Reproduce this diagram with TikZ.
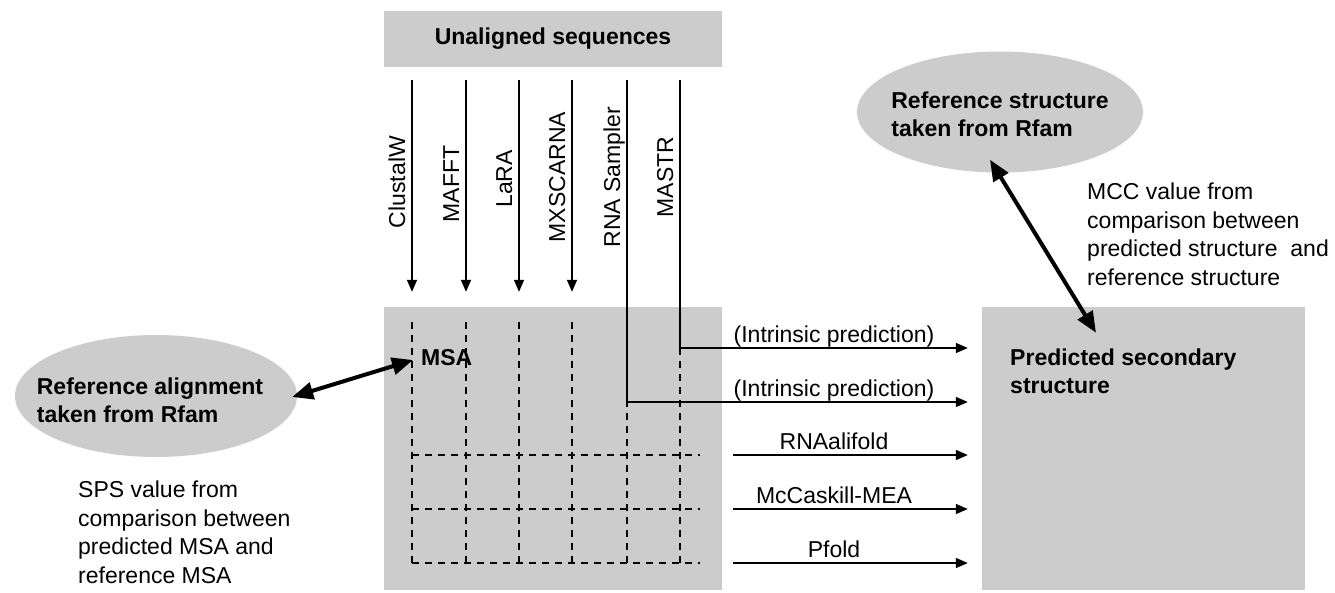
\documentclass[tikz,border=0pt]{standalone}
\usepackage{fontspec}
\setmainfont{Liberation Sans}
\usetikzlibrary{arrows.meta,shapes.geometric}
\definecolor{boxgray}{HTML}{CCCCCC}
\begin{document}
\begin{tikzpicture}[x=1pt,y=-1pt,
  txt/.style={font=\fontsize{23}{28.5}\selectfont, inner sep=0pt},
  boldtxt/.style={txt, font=\fontsize{23}{28}\selectfont\bfseries},
  panel/.style={rectangle, fill=boxgray, draw=none, inner sep=0pt},
  blob/.style={ellipse, fill=boxgray, draw=none, inner sep=0pt},
  flow/.style={line width=1.6pt, -{Triangle[length=12pt,width=10pt]}},
  compare/.style={line width=4pt, {Triangle[length=21pt,width=17pt]}-{Triangle[length=21pt,width=17pt]}},
  gridline/.style={line width=1.3pt, dash pattern=on 7pt off 6pt},
  vlabel/.style={txt, rotate=90, anchor=base}]
\useasboundingbox (0,0) rectangle (1335,592);

% panels
\node[panel, minimum width=338pt, minimum height=56pt] (useq) at (553,39) {};
\node[boldtxt] (useqlbl) at (553,39) {Unaligned sequences};
\node[panel, minimum width=338pt, minimum height=283pt] (msa) at (553,448.5) {};
\node[panel, minimum width=323pt, minimum height=283pt] (pss) at (1143.5,448.5) {};
\node[boldtxt, anchor=north west, align=left] (psslbl) at (1010,349) {Predicted secondary\\structure};

% reference ellipses
\node[blob, minimum width=282pt, minimum height=122pt] (refaln) at (156,396) {};
\node[boldtxt, align=left] (refalnlbl) at (150,400) {Reference alignment\\taken from Rfam};
\node[blob, minimum width=286pt, minimum height=121pt] (refstr) at (1000,112) {};
\node[boldtxt, align=left] (refstrlbl) at (1000,114) {Reference structure\\taken from Rfam};

% column and row positions
\coordinate (c1) at (412,0);
\coordinate (c2) at (466,0);
\coordinate (c3) at (519,0);
\coordinate (c4) at (572,0);
\coordinate (c5) at (627,0);
\coordinate (c6) at (680,0);
\coordinate (h1) at (0,348);
\coordinate (h2) at (0,402);
\coordinate (h3) at (0,455);
\coordinate (h4) at (0,509);
\coordinate (h5) at (0,563);

% alignment grid
\foreach \x in {412,466,519,572,627,680}
  \draw[gridline] (\x,322) -- (\x,563);
\foreach \y in {455,509,563}
  \draw[gridline] (412,\y) -- (700,\y);
\node[boldtxt, anchor=west] (msalbl) at (421,358) {MSA};

% aligners
\foreach \c in {c1,c2,c3,c4}
  \draw[flow, shorten <=13pt, shorten >=15pt] (useq.south -| \c) -- (msa.north -| \c);
\node[vlabel] (t1) at (405,182) {ClustalW};
\node[vlabel] (t2) at (459,184) {MAFFT};
\node[vlabel] (t3) at (512,179) {LaRA};
\node[vlabel] (t4) at (565,177) {MXSCARNA};
\node[vlabel] (t5) at (620,177) {RNA Sampler};
\node[vlabel] (t6) at (673,177) {MASTR};

% structure prediction
\draw[flow, shorten <=13pt, shorten >=14pt] (useq.south -| c6) |- (pss.west |- h1);
\draw[flow, shorten <=13pt, shorten >=14pt] (useq.south -| c5) |- (pss.west |- h2);
\foreach \h in {h3,h4,h5}
  \draw[flow, shorten <=11pt, shorten >=14pt] (msa.east |- \h) -- (pss.west |- \h);
\node[txt, anchor=base] (p1) at (834,342) {(Intrinsic prediction)};
\node[txt, anchor=base] (p2) at (834,396) {(Intrinsic prediction)};
\node[txt, anchor=base] (p3) at (834,449) {RNAalifold};
\node[txt, anchor=base] (p4) at (834,503) {McCaskill-MEA};
\node[txt, anchor=base] (p5) at (834,557) {Pfold};

% evaluation
\draw[compare] ([xshift=-8pt,yshift=-2pt]msalbl.west) -- ([xshift=-5pt,yshift=-1pt]refaln.east);
\draw[compare] ([xshift=-10pt,yshift=13pt]refstr.south) -- ([xshift=-47.5pt,yshift=-26pt]pss.north);
\node[txt, anchor=north west, align=left] (sps) at (78,481)
  {SPS value from\\comparison between\\predicted MSA and\\reference MSA};
\node[txt, anchor=north west, align=left] (mcc) at (1087,183)
  {MCC value from\\comparison between\\predicted structure\ \ and\\reference structure};
\end{tikzpicture}
\end{document}
